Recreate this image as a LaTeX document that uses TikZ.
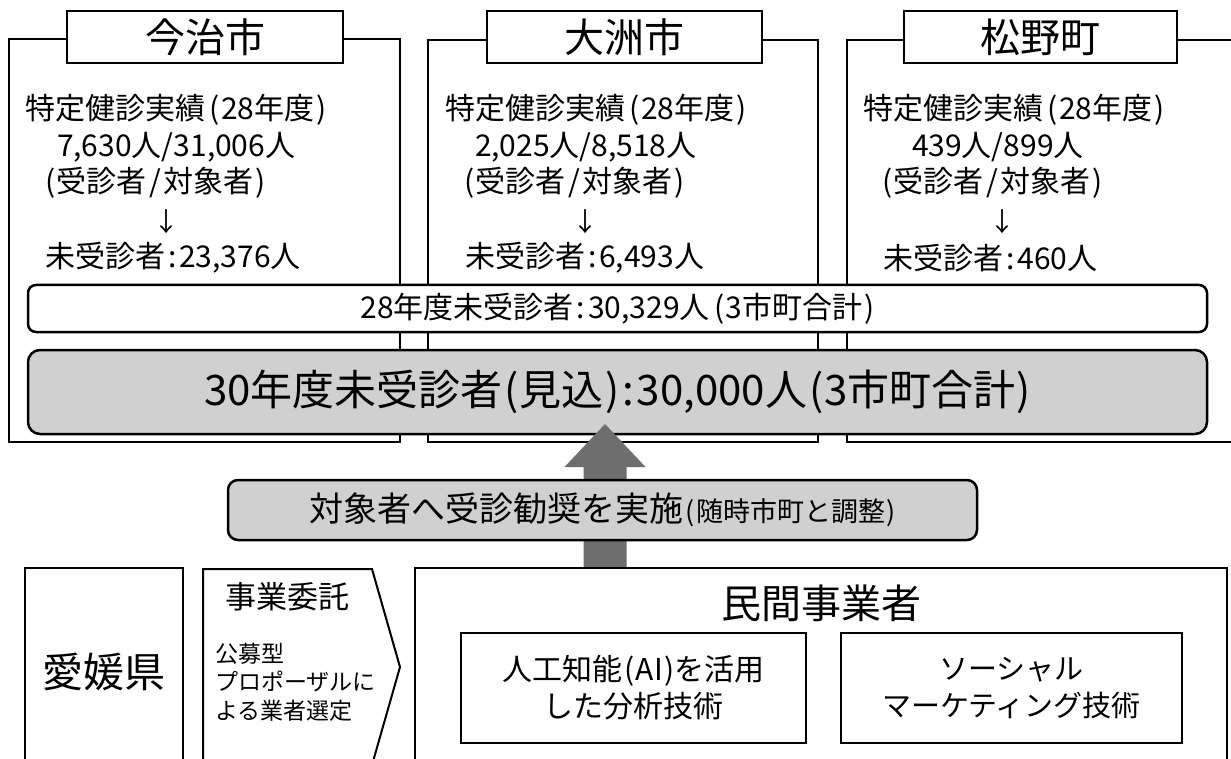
\documentclass[tikz,border=0pt]{standalone}
\usepackage{fontspec}
\setmainfont{Noto Sans CJK JP}
\definecolor{boxgray}{HTML}{D0D0D0}
\definecolor{arrowgray}{HTML}{6E6E6E}
\newcommand\fsz[2]{\fontsize{#1}{#2}\selectfont}
\newcommand\LP{\kern5pt(\kern1pt}
\newcommand\RP{\kern2pt)}
\newcommand\lps{\kern2pt(\kern1pt}
\newcommand\rps{\kern1pt)}
\newcommand\CO{\kern3pt:\kern3pt}
\newcommand\SL{\kern3pt/\kern3pt}
\begin{document}
\begin{tikzpicture}[x=1pt,y=-1pt,
  every node/.style={inner sep=0pt, outer sep=0pt},
  frame/.style={draw=black, line width=2pt, fill=white},
  titlebox/.style={frame, minimum height=52, font=\fsz{40}{46}},
  body/.style={anchor=west, font=\fsz{30}{36}},
  downarrow/.style={font=\fsz{26}{30}},
  roundbox/.style={draw=black, line width=2.5pt, minimum width=1179}]
\useasboundingbox (0,0) rectangle (1231,759);
\clip (0,0) rectangle (1231,759);
\fill[white] (0,0) rectangle (1231,759);

% city frames
\node[frame, minimum width=391, minimum height=403] (imabari) at (204.5,240.5) {};
\node[frame, minimum width=390, minimum height=402] (ozu) at (623,241) {};
\node[frame, minimum width=388, minimum height=402] (matsuno) at (1041,241) {};
\node[titlebox, minimum width=276] (imabariT) at (205,37) {今治市};
\node[titlebox, minimum width=275] (ozuT) at (624.5,37) {大洲市};
\node[titlebox, minimum width=273] (matsunoT) at (1040.5,37) {松野町};

% Imabari
\node[body] (im1) at (25,110) {特定健診実績\LP 28年度\RP};
\node[body] (im2) at (57,147) {7,630人/31,006人};
\node[body] (im3) at (45,183) {(\kern1pt 受診者\SL 対象者\RP};
\node[downarrow] (im4) at (166,222) {↓};
\node[body] (im5) at (45,258) {未受診者\CO 23,376人};
% Ozu
\node[body] (oz1) at (445,110) {特定健診実績\LP 28年度\RP};
\node[body] (oz2) at (475,147) {2,025人/8,518人};
\node[body] (oz3) at (464,183) {(\kern1pt 受診者\SL 対象者\RP};
\node[downarrow] (oz4) at (585,222) {↓};
\node[body] (oz5) at (465,258) {未受診者\CO 6,493人};
% Matsuno
\node[body] (ma1) at (863,110) {特定健診実績\LP 28年度\RP};
\node[body] (ma2) at (912,147) {439人/899人};
\node[body] (ma3) at (882,183) {(\kern1pt 受診者\SL 対象者\RP};
\node[downarrow] (ma4) at (1002,222) {↓};
\node[body] (ma5) at (883,258) {未受診者\CO 460人};

% totals
\node[roundbox, rounded corners=8pt, fill=white, minimum height=47, font=\fsz{30}{36}] (u28) at (617.5,308.5) {28年度未受診者\CO 30,329人\LP 3市町合計\RP};
\node[roundbox, rounded corners=12pt, fill=boxgray, minimum height=84, font=\fsz{42}{50}] (u30) at (617.5,392) {30年度未受診者\lps 見込\rps\CO 30,000人\lps 3市町合計\rps};

% big arrow
\coordinate (atip) at (605,424);
\fill[arrowgray] (583.5,568) -- (583.5,467) -- (564.5,467) -- (atip) -- (645.5,467) -- (626.5,467) -- (626.5,568) -- cycle;

% recommendation box
\node[draw=black, line width=2.5pt, rounded corners=10pt, fill=boxgray, minimum width=749, minimum height=60] (kansho) at (602.5,510) {{\fsz{34}{40}対象者へ受診勧奨を実施}{\fsz{27}{30}\lps 随時市町と調整\rps}};

% bottom
\node[frame, minimum width=158, minimum height=207, font=\fsz{41}{46}] (ehime) at (104,671.5) {愛媛県};
\draw[line width=2pt, fill=white] (203,569) -- (372,569) -- (400,667) -- (372,765) -- (203,765) -- cycle;
\node[font=\fsz{31}{36}] (itaku) at (287,597) {事業委託};
\node[anchor=west, align=left, font=\fsz{23}{28.5}] (bosyu) at (215,682) {公募型\\プロポーザルに\\よる業者選定};

\node[frame, minimum width=812, minimum height=207] (minkan) at (821,671.5) {};
\node[font=\fsz{40}{46}] (minkanT) at (821,603) {民間事業者};
\node[frame, minimum width=345, minimum height=110, align=center, font=\fsz{30}{37}] (ai) at (633.5,688) {人工知能\lps AI\rps を活用\\した分析技術};
\node[frame, minimum width=341, minimum height=110, align=center, font=\fsz{29}{37}] (social) at (1011.5,688) {ソーシャル\\マーケティング技術};
\end{tikzpicture}
\end{document}
